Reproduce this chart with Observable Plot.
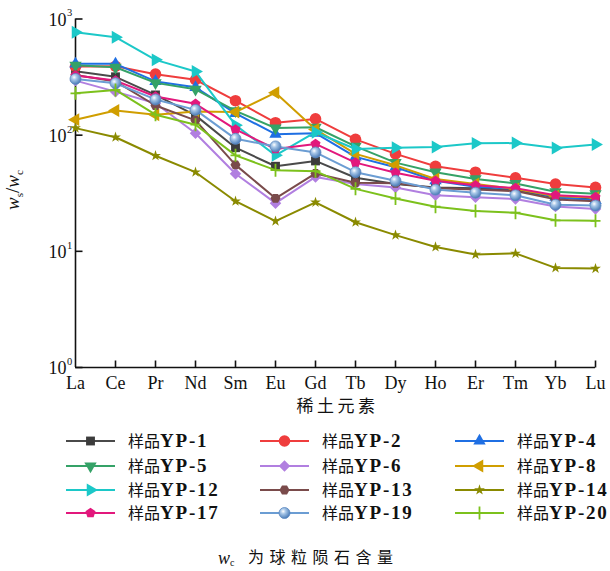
<!DOCTYPE html>
<html><head><meta charset="utf-8">
<script src="https://cdn.jsdelivr.net/npm/d3@7"></script>
<script src="https://cdn.jsdelivr.net/npm/@observablehq/plot@0.6"></script>
<style>
html,body{margin:0;padding:0;background:#fff;}
body{width:610px;height:571px;overflow:hidden;position:relative;font-family:"Liberation Serif","Noto Sans CJK SC",serif;color:#111;}
#chart{position:absolute;left:0;top:0;}
#legend{position:absolute;left:0;top:425px;}
#caption{position:absolute;left:0;top:544px;width:610px;height:28px;}
#caption .w{position:absolute;left:218px;top:0;font-size:18px;font-style:italic;line-height:28px;white-space:nowrap;}
#caption .w sub{font-size:10px;font-style:normal;vertical-align:-2px;}
#caption .zh{position:absolute;left:248px;top:0;font-size:16px;letter-spacing:5.5px;line-height:28px;white-space:nowrap;}
svg{display:block;}
</style></head><body>
<svg width="0" height="0" style="position:absolute">
  <defs>
    <radialGradient id="sphereGrad" cx="38%" cy="35%" r="65%">
      <stop offset="0%" stop-color="#ffffff"/>
      <stop offset="35%" stop-color="#a8c7e8"/>
      <stop offset="100%" stop-color="#4c7db8"/>
    </radialGradient>
  </defs>
</svg>
<div id="chart"></div>
<div id="legend"></div>
<div id="caption"><span class="w">w<sub>c</sub></span><span class="zh">为球粒陨石含量</span></div>
<script>
// ---- data ----
const elements = ["La","Ce","Pr","Nd","Sm","Eu","Gd","Tb","Dy","Ho","Er","Tm","Yb","Lu"];
const seriesNames = ["YP-1","YP-2","YP-4","YP-5","YP-6","YP-8","YP-12","YP-13","YP-14","YP-17","YP-19","YP-20"];
const yp1  = [355, 318, 222, 148, 78, 54, 60, 43, 38, 35.5, 35, 33.5, 29, 28];
const yp2  = [390, 392, 335, 300, 198, 128, 138, 92, 69, 54, 48, 43, 38, 35.5];
const yp4  = [411, 411, 290, 258, 154, 102, 104, 65, 53, 40.5, 36, 34.5, 29.3, 27.4];
const yp5  = [400, 384, 282, 248, 162, 115, 117, 80, 58, 48, 42, 38.4, 32.6, 31.3];
const yp6  = [295, 237, 188, 104, 46.5, 26, 43.7, 38, 35.5, 30.4, 29.2, 28.2, 24.3, 23.1];
const yp8  = [136, 163, 150, 160, 158, 232, 112, 69, 55, 42, 38, 34.4, 30, 29];
const yp12 = [770, 697, 445, 353, 122, 67, 106, 76, 78, 79, 85, 85.5, 77.5, 83];
const yp13 = [330, 290, 180, 134, 55.5, 28.6, 46.8, 39, 38.5, 35, 34, 33, 28, 27];
const yp14 = [115, 96, 66.5, 48, 27, 18.2, 26.4, 17.8, 13.8, 10.9, 9.4, 9.6, 7.2, 7.1];
const yp17 = [326, 295, 215, 186, 112, 76, 84, 58, 47.5, 40.5, 37, 35, 30.4, 29.3];
const yp19 = [305, 280, 203, 165, 93, 80, 71, 48, 40.5, 34, 32, 30.4, 25.2, 24.8];
const yp20 = [229, 245, 150, 123, 67, 50, 49, 34.5, 28.5, 24.2, 22.2, 21.5, 18.5, 18.3];
const seriesValues = [yp1, yp2, yp4, yp5, yp6, yp8, yp12, yp13, yp14, yp17, yp19, yp20];
const yTicks = [1, 10, 100, 1000];
const yTickExp = ["0", "1", "2", "3"];
const xTitle = "稀土元素";
const legendPrefix = "样品";

// ---- symbols ----
const sq3 = Math.sqrt(3);
function rotPts(pts, deg){const a=deg*Math.PI/180,c=Math.cos(a),s=Math.sin(a);return pts.map(([x,y])=>[x*c-y*s,x*s+y*c]);}
function polySymbol(fn){return {draw(ctx,size){const p=fn(size);ctx.moveTo(p[0][0],p[0][1]);for(let i=1;i<p.length;i++)ctx.lineTo(p[i][0],p[i][1]);ctx.closePath();}};}
function triangle(deg){return polySymbol(size=>{const y=-Math.sqrt(size/(sq3*3));return rotPts([[0,2*y],[-sq3*y,-y],[sq3*y,-y]],deg);});}
function regular(n,areaK,off){return polySymbol(size=>{const R=Math.sqrt(size/areaK);return d3.range(n).map(i=>{const a=(off+i*360/n)*Math.PI/180;return [R*Math.sin(a),-R*Math.cos(a)];});});}
const pentagon = regular(5, 2.5*Math.sin(2*Math.PI/5), 0);
const hexagon = regular(6, 1.5*sq3, 30);
const diamond = regular(4, 2, 0);
const plusSym = {draw(ctx){ctx.moveTo(0,-6.5);ctx.lineTo(0,6.5);ctx.moveTo(-5,0);ctx.lineTo(5,0);}};
const tickRight = {draw(ctx){ctx.moveTo(0,0);ctx.lineTo(7,0);}};
const tickUp = {draw(ctx){ctx.moveTo(0,0);ctx.lineTo(0,-7);}};

const styles = [
  {color:"#4a4a4a", fill:"#3c3c3c", stroke:"none", symbol:d3.symbolSquare, r:5},
  {color:"#ef3d3d", fill:"#ef3d3d", stroke:"none", symbol:d3.symbolCircle, r:5.8},
  {color:"#1f6fe3", fill:"#1f6fe3", stroke:"none", symbol:triangle(0), r:4.6},
  {color:"#35a267", fill:"#35a267", stroke:"none", symbol:triangle(180), r:4.6},
  {color:"#b17fe0", fill:"#b17fe0", stroke:"none", symbol:diamond, r:4.6},
  {color:"#d09e00", fill:"#d09e00", stroke:"none", symbol:triangle(-90), r:4.8},
  {color:"#1cc8c8", fill:"#1cc8c8", stroke:"none", symbol:triangle(90), r:4.8},
  {color:"#7a4b4b", fill:"#7a4b4b", stroke:"none", symbol:hexagon, r:4.6},
  {color:"#8a8a00", fill:"#8a8a00", stroke:"none", symbol:d3.symbolStar, r:3.4},
  {color:"#e2187c", fill:"#e2187c", stroke:"none", symbol:pentagon, r:4.6},
  {color:"#6b9dd3", fill:"url(#sphereGrad)", stroke:"#5a88c0", symbol:d3.symbolCircle, r:5.5},
  {color:"#7cc11c", fill:"none", stroke:"#7cc11c", symbol:plusSym, r:4}
];

// ---- chart ----
const FONT = "Liberation Serif, Noto Sans CJK SC, serif";
const marks = [];
marks.push(Plot.ruleX([elements[0]], {x: d=>d, y1: yTicks[0], y2: yTicks[yTicks.length-1], stroke:"#111", strokeWidth:1.6}));
marks.push(Plot.ruleY([yTicks[0]], {y: d=>d, x1: ()=>elements[0], x2: ()=>elements[elements.length-1], stroke:"#111", strokeWidth:1.6}));
marks.push(Plot.dot(yTicks, {x: ()=>elements[0], y: d=>d, symbol: tickRight, r:3, fill:"none", stroke:"#111", strokeWidth:1.6}));
marks.push(Plot.dot(elements.slice(1), {x: d=>d, y: ()=>yTicks[0], symbol: tickUp, r:3, fill:"none", stroke:"#111", strokeWidth:1.6}));
marks.push(Plot.text(yTicks, {x: ()=>elements[0], y: d=>d, text: ()=>"10", dx:-9, dy:1, textAnchor:"end", fontSize:18, fontFamily:FONT, fill:"#111"}));
marks.push(Plot.text(yTicks, {x: ()=>elements[0], y: d=>d, text: (d,i)=>yTickExp[i], dx:-8.5, dy:-6, textAnchor:"start", fontSize:10.5, fontFamily:FONT, fill:"#111"}));
marks.push(Plot.text(elements, {x: d=>d, y: ()=>yTicks[0], text: d=>d, dy:16, fontSize:18, fontFamily:FONT, fill:"#111"}));
marks.push(Plot.text([xTitle], {frameAnchor:"bottom", text: d=>d, dx:2, dy:44, fontSize:17, fontFamily:FONT, fill:"#111"}));

seriesNames.forEach((name, i) => {
  const vals = seriesValues[i];
  const st = styles[i];
  const rows = elements.map((e, j) => ({el: e, v: vals[j], s: name}));
  marks.push(Plot.line(rows, {x:"el", y:"v", stroke: st.color, strokeWidth: 2}));
  marks.push(Plot.dot(rows, {x:"el", y:"v", symbol: st.symbol, r: st.r, fill: st.fill, stroke: st.stroke, strokeWidth: st.symbol === plusSym ? 1.8 : 0.8}));
});

const plot = Plot.plot({
  width: 610, height: 425,
  marginLeft: 75, marginRight: 15, marginTop: 18.5, marginBottom: 58,
  x: {type:"point", domain: elements, padding: 0, axis: null},
  y: {type:"log", domain: [yTicks[0], yTicks[yTicks.length-1]], axis: null},
  style: {background:"#fff", fontFamily: FONT, overflow:"visible"},
  marks
});
document.getElementById("chart").appendChild(plot);

const ysvg = d3.select(plot.tagName.toLowerCase() === "svg" ? plot : plot.querySelector("svg"));
// letter spacing for the x title
ysvg.selectAll("text").filter(function(){ return this.textContent === xTitle; }).style("letter-spacing","3.5px");
// y-axis title
const yt = ysvg.append("text").attr("transform","translate(19,190) rotate(-90)")
  .attr("text-anchor","middle").attr("font-family",FONT).attr("font-size",19).attr("fill","#111");
yt.append("tspan").attr("font-style","italic").text("w");
yt.append("tspan").attr("font-size",11).attr("dy",4).text("s");
yt.append("tspan").attr("dy",-4).text("/");
yt.append("tspan").attr("font-style","italic").text("w");
yt.append("tspan").attr("font-size",11).attr("dy",4).text("c");

// ---- legend ----
const lg = d3.select("#legend").append("svg").attr("width",610).attr("height",100);
const colX = [66, 260, 455], rowY = [16, 41, 65, 88];
seriesNames.forEach((name, i) => {
  const st = styles[i];
  const x0 = colX[i % 3], y0 = rowY[Math.floor(i / 3)];
  const g = lg.append("g").attr("transform", `translate(${x0},${y0})`);
  g.append("line").attr("x1",0).attr("x2",49).attr("y1",0).attr("y2",0).attr("stroke",st.color).attr("stroke-width",2);
  g.append("path").attr("transform","translate(24.5,0)")
    .attr("d", d3.symbol(st.symbol, Math.PI*st.r*st.r)())
    .attr("fill", st.fill).attr("stroke", st.stroke).attr("stroke-width", st.symbol === plusSym ? 1.8 : 0.8);
  const t = g.append("text").attr("x",62).attr("y",0).attr("dy","0.35em")
    .attr("font-family",FONT).attr("fill","#111");
  t.append("tspan").attr("font-size",16).text(legendPrefix);
  t.append("tspan").attr("font-size",19).attr("font-weight","bold").attr("letter-spacing","1.8px").text(name);
});
</script>
</body></html>
